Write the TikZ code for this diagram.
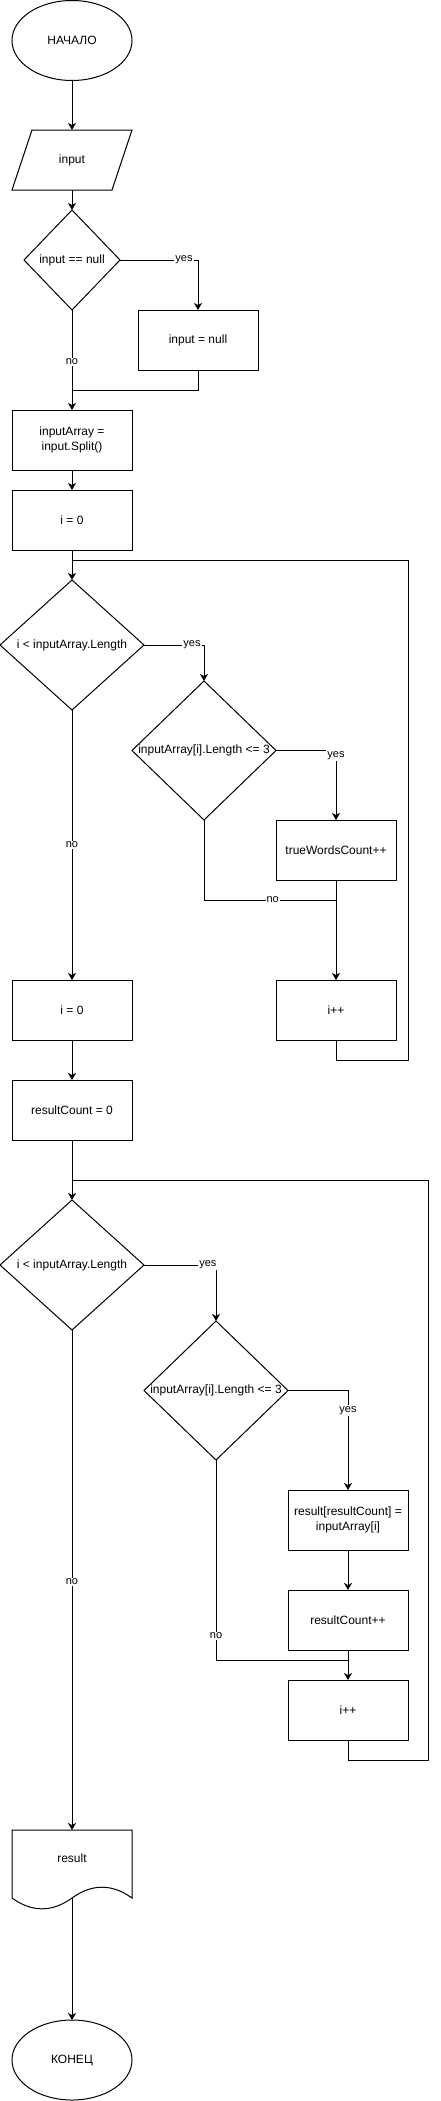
\documentclass[tikz,border=0pt]{standalone}
\usepackage{fontspec}
\setmainfont{Liberation Sans}
\usetikzlibrary{shapes.geometric,arrows.meta}
\begin{document}
\begin{tikzpicture}[x=1pt,y=-1pt,line width=1pt,
  base/.style={font=\fontsize{12}{14.4}\selectfont,align=center,inner sep=0pt,outer sep=0pt},
  proc/.style={base,draw,rectangle,minimum width=120pt,minimum height=60pt},
  term/.style={base,draw,ellipse,minimum width=120pt,minimum height=80pt},
  dec/.style={base,draw,diamond},
  plain/.style={base,minimum width=120pt,minimum height=60pt},
  lbl/.style={font=\fontsize{11}{13}\selectfont,fill=white,inner sep=1pt},
  arr/.style={-{Stealth[length=7pt,width=8pt,inset=2pt]}}]
\useasboundingbox (0,0) rectangle (440,2101);

% nodes
\node[term] (start) at (72,40.5) {НАЧАЛО};
\node[plain] (inp) at (72,160) {input};
\draw ([xshift=20pt]inp.north west) -- (inp.north east) -- ([xshift=-20pt]inp.south east) -- (inp.south west) -- cycle;
\node[dec,minimum width=96pt,minimum height=100pt,label={[base]center:input == null}] (d1) at (72,260) {};
\node[proc] (b1) at (198,340) {input = null};
\node[proc] (split) at (72,440) {inputArray =\\input.Split()};
\node[proc] (i0) at (72,520) {i = 0};
\node[dec,minimum width=144pt,minimum height=130pt,label={[base]center:i < inputArray.Length}] (d2) at (72,645) {};
\node[dec,minimum width=144pt,minimum height=139pt,label={[base]center:inputArray[i].Length <= 3}] (d3) at (204,750.5) {};
\node[proc] (tw) at (336,850) {trueWordsCount++};
\node[proc] (inc1) at (336,1010) {i++};
\node[proc] (i0b) at (72,1010) {i = 0};
\node[proc] (rc0) at (72,1110) {resultCount = 0};
\node[dec,minimum width=144pt,minimum height=130pt,label={[base]center:i < inputArray.Length}] (d4) at (72,1265) {};
\node[dec,minimum width=144pt,minimum height=139pt,label={[base]center:inputArray[i].Length <= 3}] (d5) at (216,1390.5) {};
\node[proc] (rr) at (348,1520) {result[resultCount] =\\inputArray[i]};
\node[proc] (rc1) at (348,1620) {resultCount++};
\node[proc] (inc2) at (348,1710) {i++};
\draw (12,1830) -- (132,1830) -- (132,1898) .. controls (112,1883.6) and (92,1883.6) .. (72,1898) .. controls (52,1912.4) and (32,1912.4) .. (12,1898) -- cycle;
\node[base,minimum width=120pt,minimum height=56pt] (res) at (72,1858) {result};
\coordinate (resb) at (72,1898);
\node[term] (end) at (72,2060) {КОНЕЦ};

\coordinate (m1) at (72,390);
\coordinate (m2) at (336,900);
\coordinate (m3) at (348,1660);
\coordinate (lp1) at (408,560);
\coordinate (jn1) at (72,560);
\coordinate (lp2) at (428,1180);
\coordinate (jn2) at (72,1180);

% connectors
\draw[arr] (start) -- (inp);
\draw[arr] (inp) -- (d1);
\draw[arr] (d1.east) -| node[lbl,pos=0.41]{yes} (b1.north);
\draw (b1.south) |- (m1);
\draw[arr] (d1.south) -- node[lbl,pos=0.52]{no} (split.north);
\draw[arr] (split) -- (i0);
\draw[arr] (i0.south) -- (d2.north);
\draw[arr] (d2.east) -| node[lbl,pos=0.4]{yes} (d3.north);
\draw[arr] (d3.east) -| node[lbl,pos=0.536]{yes} (tw.north);
\draw (d3.south) |- node[lbl,pos=0.76]{no} (m2);
\draw[arr] (tw.south) -- (inc1.north);
\draw (inc1.south) -- ++(0,20) -| (lp1) -- (jn1);
\draw[arr] (d2.south) -- node[lbl,pos=0.5]{no} (i0b.north);
\draw[arr] (i0b) -- (rc0);
\draw[arr] (rc0.south) -- (d4.north);
\draw[arr] (d4.east) -| node[lbl,pos=0.444]{yes} (d5.north);
\draw[arr] (d5.east) -| node[lbl,pos=0.6]{yes} (rr.north);
\draw[arr] (rr) -- (rc1);
\draw (d5.south) |- node[lbl,pos=0.44]{no} (m3);
\draw[arr] (rc1.south) -- (inc2.north);
\draw (inc2.south) -- ++(0,20) -| (lp2) -- (jn2);
\draw[arr] (d4.south) -- node[lbl,pos=0.504]{no} (res.north);
\draw[arr] (resb) -- (end.north);
\end{tikzpicture}
\end{document}
